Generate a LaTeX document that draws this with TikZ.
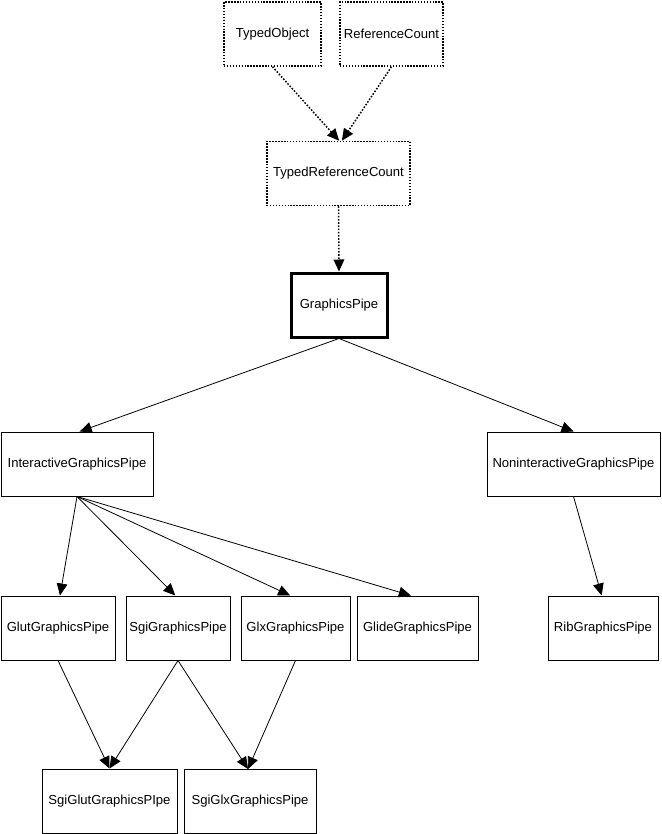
\documentclass[tikz,border=0pt]{standalone}
\usepackage{fontspec}
\setmainfont{Liberation Sans}
\usetikzlibrary{arrows.meta}
\tikzset{
  box/.style={draw, line width=0.75pt, inner sep=0pt, minimum height=48pt, fill=white,
    font=\fontsize{9.8pt}{11pt}\selectfont},
  dotbox/.style={box, dash pattern=on 1.1pt off 1.1pt, line width=1.1pt},
  thickbox/.style={box, line width=2.25pt},
  conn/.style={line width=0.6pt, -{Triangle[length=9pt,width=8pt]}},
  dotconn/.style={conn, line width=1.1pt, dash pattern=on 1.2pt off 1.2pt}
}
\begin{document}
\begin{tikzpicture}[x=0.75pt,y=-0.75pt]
\useasboundingbox (0,0) rectangle (661,834);
\node[dotbox, minimum width=72.75pt] (to) at (272.5,34) {TypedObject};
\node[dotbox, minimum width=77.25pt] (rc) at (391.5,34) {ReferenceCount};
\node[dotbox, minimum width=107.25pt] (trc) at (338.5,173.5) {TypedReferenceCount};
\node[thickbox, minimum width=72pt] (gp) at (339,305) {GraphicsPipe};
\node[box, minimum width=114pt] (igp) at (77,464) {InteractiveGraphicsPipe};
\node[box, minimum width=129.75pt] (ngp) at (573.5,464) {NoninteractiveGraphicsPipe};
\node[box, minimum width=85.5pt] (glut) at (58,628) {GlutGraphicsPipe};
\node[box, minimum width=78pt] (sgi) at (178,628) {SgiGraphicsPipe};
\node[box, minimum width=81.75pt] (glx) at (295.5,628) {GlxGraphicsPipe};
\node[box, minimum width=90.75pt] (glide) at (417.5,628) {GlideGraphicsPipe};
\node[box, minimum width=82.5pt] (rib) at (603,628) {RibGraphicsPipe};
\node[box, minimum width=101.25pt] (sgiglut) at (109.5,801) {SgiGlutGraphicsPIpe};
\node[box, minimum width=99pt] (sgiglx) at (250,801.5) {SgiGlxGraphicsPipe};

\draw[dotconn] (to.south) -- ([xshift=0.5pt]trc.north);
\draw[dotconn] (rc.south) -- ([xshift=2.5pt]trc.north);
\draw[dotconn] (trc.south) -- (gp.north);
\draw[conn] (gp.south) -- ([xshift=2pt]igp.north);
\draw[conn] (gp.south) -- (ngp.north);
\draw[conn] (igp.south) -- ([xshift=1.5pt]glut.north);
\draw[conn] (igp.south) -- ([xshift=-2pt]sgi.north);
\draw[conn] (igp.south) -- ([xshift=-4pt]glx.north);
\draw[conn] (igp.south) -- ([xshift=-5pt]glide.north);
\draw[conn] (ngp.south) -- ([xshift=-1pt]rib.north);
\draw[conn] (glut.south) -- (sgiglut.north);
\draw[conn] (sgi.south) -- (sgiglut.north);
\draw[conn] (sgi.south) -- ([xshift=-1.5pt]sgiglx.north);
\draw[conn] (glx.south) -- ([xshift=-1.5pt]sgiglx.north);
\end{tikzpicture}
\end{document}
